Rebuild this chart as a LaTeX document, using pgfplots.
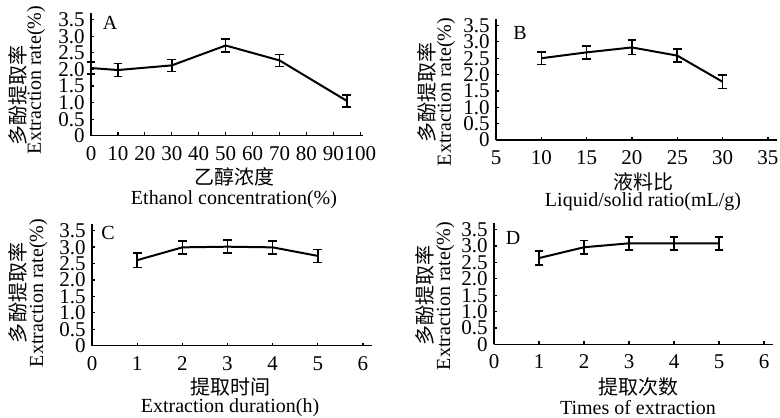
\documentclass[border=0pt]{standalone}
\usepackage{pgfplots}
\pgfplotsset{compat=1.18}
\usepackage{fontspec}
\setmainfont{Liberation Serif}
\newfontfamily\cjk{Noto Sans CJK SC}
\pgfplotsset{
  panel/.style={
    scale only axis, anchor=south west,
    axis lines=left, axis line style={-, line width=0.75pt},
    tick align=inside, major tick length=1.6pt,
    tick style={line width=0.6pt, black},
    ymin=0, ymax=3.7,
    ytick={0,0.5,1,1.5,2,2.5,3,3.5},
    yticklabels={0,0.5,1.0,1.5,2.0,2.5,3.0,3.5},
    /pgf/number format/assume math mode=true,
    xticklabel={\pgfmathprintnumber{\tick}},
    ticklabel style={font=\rmfamily\fontsize{10.5}{10.5}\selectfont},
    yticklabel style={inner sep=0pt, text height=7pt, text depth=0pt, xshift=-3pt},
    xticklabel style={inner sep=0pt, text height=7pt, text depth=0pt, yshift=-5pt},
    clip=false,
  },
  ser/.style={black, line width=1pt, mark=none,
    error bars/.cd, y dir=both, y explicit,
    error bar style={line width=0.8pt, black},
    error mark options={rotate=90, mark size=2.2pt, line width=0.8pt, black}},
}
\begin{document}
\begin{tikzpicture}[font=\fontsize{10}{11}\selectfont]
\useasboundingbox (0,0) rectangle (390pt,208.5pt);
% Panel A
\begin{axis}[panel, at={(45.5pt,140.65pt)}, width=136pt, height=61.35pt,
  xmin=0, xmax=101, xtick={0,10,...,100}]
\addplot+[ser] coordinates {
 (0,2.04) +- (0,0.18)
 (10,1.98) +- (0,0.2)
 (30,2.12) +- (0,0.18)
 (50,2.72) +- (0,0.2)
 (70,2.27) +- (0,0.18)
 (95,1.05) +- (0,0.18)};
\end{axis}
% Panel B
\begin{axis}[panel, at={(248pt,138.5pt)}, width=140.5pt, height=60.5pt,
  xmin=5, xmax=36, xtick={5,10,...,35}]
\addplot+[ser] coordinates {
 (10,2.5) +- (0,0.19)
 (15,2.68) +- (0,0.2)
 (20,2.83) +- (0,0.22)
 (25,2.58) +- (0,0.2)
 (30,1.78) +- (0,0.2)};
\end{axis}
% Panel C
\begin{axis}[panel, at={(46pt,35.65pt)}, width=140pt, height=60.85pt,
  xmin=0, xmax=6.2, xtick={0,1,...,6}]
\addplot+[ser] coordinates {
 (1,2.6) +- (0,0.22)
 (2,2.99) +- (0,0.2)
 (3,3.01) +- (0,0.2)
 (4,2.99) +- (0,0.2)
 (5,2.73) +- (0,0.2)};
\end{axis}
% Panel D
\begin{axis}[panel, at={(247pt,36.35pt)}, width=139.5pt, height=60.65pt,
  xmin=0, xmax=6.2, xtick={0,1,...,6}]
\addplot+[ser] coordinates {
 (1,2.63) +- (0,0.22)
 (2,2.96) +- (0,0.2)
 (3,3.08) +- (0,0.2)
 (4,3.08) +- (0,0.2)
 (5,3.08) +- (0,0.2)};
\end{axis}
% y labels
\begin{scope}[every node/.style={inner sep=0pt, rotate=90}]
\node at (8.8pt,160.5pt) {\cjk 多酚提取率};
\node at (18pt,168.5pt) {Extraction rate(\%)};
\node at (213.3pt,162pt) {\cjk 多酚提取率};
\node at (223pt,162.5pt) {Extraction rate(\%)};
\node at (8.8pt,62pt) {\cjk 多酚提取率};
\node at (19.2pt,62pt) {Extraction rate(\%)};
\node at (212.3pt,60.5pt) {\cjk 多酚提取率};
\node at (222.7pt,60.5pt) {Extraction rate(\%)};
\end{scope}
% x labels
\begin{scope}[every node/.style={inner sep=0pt}]
\node at (117pt,120pt) {\cjk 乙醇浓度};
\node at (117pt,108.5pt) {Ethanol concentration(\%)};
\node at (321.5pt,117.5pt) {\cjk 液料比};
\node at (321.5pt,107.5pt) {Liquid/solid ratio(mL/g)};
\node at (115pt,15pt) {\cjk 提取时间};
\node at (115pt,4.5pt) {Extraction duration(h)};
\node at (319pt,15pt) {\cjk 提取次数};
\node at (319pt,4.5pt) {Times of extraction};
\end{scope}
% panel letters
\node at (55pt,197pt) {A};
\node at (260pt,192pt) {B};
\node at (54pt,92pt) {C};
\node at (256.5pt,89.5pt) {D};
\end{tikzpicture}
\end{document}
